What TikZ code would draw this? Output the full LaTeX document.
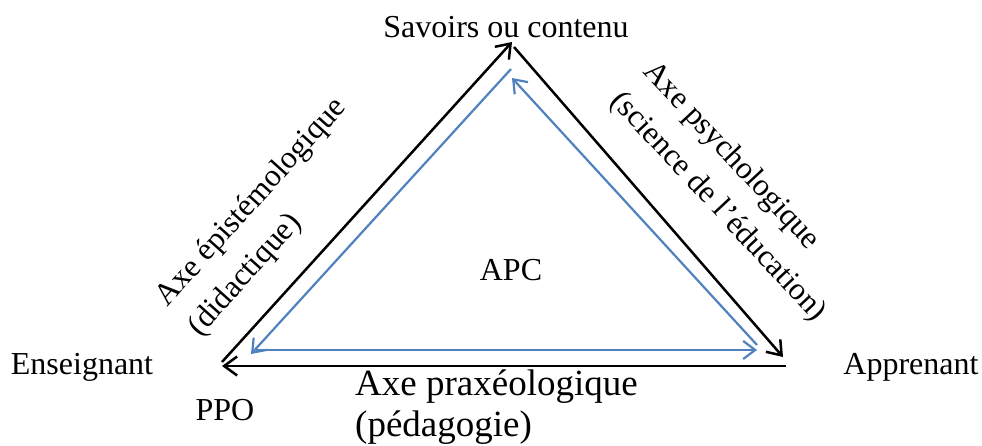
\documentclass[tikz,border=0pt]{standalone}
\usepackage{fontspec}
\setmainfont{Liberation Serif}
\usetikzlibrary{arrows.meta}
\definecolor{axeblue}{RGB}{79,129,189}
\begin{document}
\begin{tikzpicture}[x=1pt,y=-1pt,
		pole/.style={inner sep=0pt,font=\fontsize{32}{38}\selectfont},
		axe/.style={inner sep=0pt,align=left,font=\fontsize{31.5}{44}\selectfont},
		outer/.style={line width=2.5pt,-{Straight Barb[length=13pt,width=19pt]}},
		inner/.style={axeblue,line width=2.2pt,-{Straight Barb[length=12pt,width=18pt]}}]
	\useasboundingbox (0,0) rectangle (982,446);
	% poles
	\node [pole,anchor=base] (sav) at (506,38) {Savoirs ou contenu};
	\node [pole,anchor=base] (ens) at (82,374) {Enseignant};
	\node [pole,anchor=base] (app) at (911,374) {Apprenant};
	\node [pole,anchor=base] (ppo) at (225,420) {PPO};
	\node [pole,anchor=base] (apc) at (511,280) {APC};
	% ends of the black axes
	\coordinate (e1) at (222,362);
	\coordinate (s1) at (512,42);
	\coordinate (s2) at (514,47);
	\coordinate (a1) at (783,357);
	\coordinate (a2) at (786,366);
	\coordinate (e2) at (222,366);
	% ends of the blue axes
	\coordinate (bs1) at (511,69);
	\coordinate (be1) at (251,354);
	\coordinate (be2) at (256,350);
	\coordinate (ba1) at (757,350);
	\coordinate (ba2) at (757,345);
	\coordinate (bs2) at (512,78);
	\draw [outer] (e1) -- (s1);
	\draw [outer] (s2) -- (a1);
	\draw [outer] (a2) -- (e2);
	\draw [inner] (bs1) -- (be1);
	\draw [inner] (be2) -- (ba1);
	\draw [inner] (ba2) -- (bs2);
	% axes names
	\node [axe,rotate=48,anchor=north west] (epi) at (151,293) {Axe épistémologique\\(didactique)};
	\node [axe,rotate=-47,anchor=north west] (psy) at (658,57) {Axe psychologique\\(science de l’éducation)};
	\node [axe,anchor=north west,font=\fontsize{37}{41}\selectfont] (pra) at (355,370) {Axe praxéologique\\(pédagogie)};
\end{tikzpicture}
\end{document}
